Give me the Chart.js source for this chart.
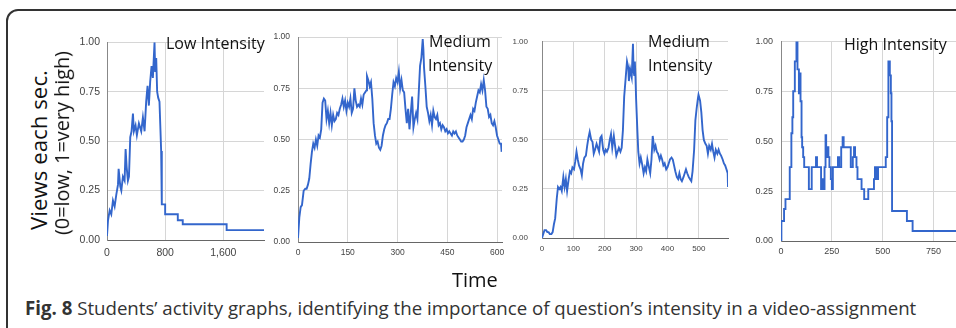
<!DOCTYPE html>
<html>
<head>
<meta charset="utf-8">
<script src="https://cdn.jsdelivr.net/npm/chart.js@4/dist/chart.umd.min.js"></script>
<style>
  html, body { margin: 0; padding: 0; background: #fff; }
  body { position: relative; width: 956px; height: 328px; overflow: hidden; }
  .frame { position: absolute; left: 6px; top: 9px; width: 1100px; height: 400px;
           border: 2px solid #333; border-radius: 12px; box-sizing: border-box; }
  canvas { position: absolute; }
  .txt { position: absolute; font-family: "Open Sans", sans-serif; color: #111;
         white-space: nowrap; line-height: 1; }
  .rot { transform: translate(-50%, -50%) rotate(-90deg); }
</style>
</head>
<body>
<div class="frame"></div>

<canvas id="p1"></canvas>
<canvas id="p2"></canvas>
<canvas id="p3"></canvas>
<canvas id="p4"></canvas>

<div class="txt rot" id="ylab1" style="left:39px; top:150px; font-size:21px;">Views each sec.</div>
<div class="txt rot" id="ylab2" style="left:62px; top:143px; font-size:20px;">(0=low, 1=very high)</div>

<div class="txt" style="left:166px; top:35px; font-size:16px;">Low Intensity</div>
<div class="txt" style="left:429px; top:33px; font-size:16px;">Medium</div>
<div class="txt" style="left:428px; top:57px; font-size:16px;">Intensity</div>
<div class="txt" style="left:648px; top:33px; font-size:16px;">Medium</div>
<div class="txt" style="left:648px; top:57px; font-size:16px;">Intensity</div>
<div class="txt" style="left:844px; top:36px; font-size:16px;">High Intensity</div>

<div class="txt" style="left:452px; top:270px; font-size:20px;">Time</div>

<div class="txt" id="caption" style="left:25px; top:299px; font-size:18.5px; color:#333;"><b>Fig. 8</b> Students’ activity graphs, identifying the importance of question’s intensity in a video-assignment</div>

<script>
// --- data (time in s, views normalised 0..1) ---
const lowTime = [0, 14, 37, 59, 82, 105, 128, 151, 160, 183, 197, 219, 242, 256, 270, 288, 302, 320, 338, 357,
  370, 393, 411, 439, 471, 494, 517, 539, 558, 576, 594, 613, 631, 645, 654, 663, 677, 690, 704, 722,
  736, 745, 754, 800, 800, 974, 974, 1042, 1042, 1646, 1646, 2160];
const lowViews = [0.02, 0.10, 0.15, 0.13, 0.20, 0.17, 0.23, 0.28, 0.36, 0.27, 0.25, 0.32, 0.30, 0.46, 0.37, 0.30, 0.32, 0.52, 0.55, 0.64,
  0.55, 0.58, 0.53, 0.59, 0.55, 0.62, 0.55, 0.70, 0.78, 0.68, 0.80, 0.88, 0.82, 0.93, 1.00, 0.85, 0.92, 0.75, 0.72, 0.70,
  0.55, 0.45, 0.18, 0.18, 0.13, 0.13, 0.10, 0.10, 0.08, 0.08, 0.05, 0.05];

const med1Time = [0, 4, 8, 12, 17, 22, 26, 30, 34, 38, 42, 46, 50, 54, 58, 62, 66, 70, 74, 78,
  82, 86, 90, 94, 98, 102, 106, 110, 114, 118, 122, 126, 130, 134, 138, 142, 146, 150, 154, 158,
  162, 166, 170, 174, 178, 182, 186, 190, 194, 198, 202, 206, 208, 212, 216, 220, 224, 228, 232, 236,
  240, 244, 248, 252, 256, 260, 264, 268, 272, 276, 280, 284, 288, 292, 296, 300, 304, 308, 312, 316,
  320, 324, 328, 332, 336, 340, 344, 348, 352, 356, 360, 364, 368, 372, 376, 378, 380, 384, 388, 392,
  396, 400, 404, 408, 412, 416, 420, 424, 428, 432, 436, 440, 444, 448, 452, 456, 460, 464, 468, 472,
  476, 480, 484, 488, 492, 496, 500, 504, 508, 512, 516, 520, 524, 528, 532, 536, 540, 544, 548, 552,
  556, 560, 564, 568, 572, 576, 580, 584, 588, 592, 596, 600, 604, 608, 612, 614];
const med1Views = [0.02, 0.12, 0.17, 0.18, 0.25, 0.26, 0.26, 0.28, 0.31, 0.38, 0.44, 0.48, 0.46, 0.50, 0.47, 0.52, 0.51, 0.55, 0.68, 0.70,
  0.69, 0.60, 0.64, 0.58, 0.63, 0.57, 0.62, 0.59, 0.60, 0.63, 0.62, 0.65, 0.67, 0.70, 0.66, 0.69, 0.64, 0.68, 0.66, 0.70,
  0.63, 0.65, 0.75, 0.69, 0.66, 0.67, 0.66, 0.70, 0.67, 0.72, 0.73, 0.74, 0.81, 0.79, 0.76, 0.78, 0.70, 0.58, 0.52, 0.48,
  0.49, 0.46, 0.45, 0.47, 0.52, 0.55, 0.57, 0.58, 0.60, 0.60, 0.65, 0.72, 0.78, 0.76, 0.80, 0.78, 0.83, 0.75, 0.79, 0.74,
  0.73, 0.65, 0.58, 0.65, 0.55, 0.63, 0.71, 0.56, 0.60, 0.63, 0.60, 0.73, 0.86, 0.90, 0.99, 0.94, 0.85, 0.76, 0.66, 0.63,
  0.59, 0.62, 0.57, 0.64, 0.61, 0.60, 0.62, 0.57, 0.58, 0.55, 0.57, 0.56, 0.54, 0.55, 0.53, 0.54, 0.53, 0.52, 0.54, 0.53,
  0.54, 0.52, 0.51, 0.50, 0.49, 0.49, 0.50, 0.52, 0.56, 0.58, 0.60, 0.62, 0.60, 0.65, 0.64, 0.68, 0.71, 0.74, 0.73, 0.77,
  0.74, 0.79, 0.74, 0.66, 0.65, 0.61, 0.62, 0.58, 0.57, 0.59, 0.56, 0.52, 0.50, 0.48, 0.48, 0.44];

const med2Time = [0, 4, 8, 13, 17, 21, 25, 30, 34, 38, 42, 47, 51, 55, 59, 63, 68, 72, 76, 80,
  85, 89, 93, 97, 102, 106, 110, 114, 118, 123, 127, 131, 135, 140, 144, 148, 152, 157, 161, 165,
  169, 174, 178, 182, 186, 190, 195, 199, 203, 207, 212, 216, 220, 224, 229, 233, 237, 241, 245, 250,
  254, 258, 262, 267, 271, 275, 277, 281, 286, 290, 292, 294, 296, 298, 300, 304, 307, 311, 315, 320,
  324, 328, 332, 336, 341, 345, 349, 353, 358, 362, 366, 370, 375, 379, 383, 387, 391, 396, 400, 404,
  408, 413, 417, 421, 425, 430, 434, 438, 442, 446, 451, 455, 459, 463, 468, 472, 476, 480, 485, 489,
  493, 497, 499, 504, 508, 512, 516, 521, 525, 529, 533, 538, 542, 546, 550, 554, 559, 563, 567, 571,
  576, 580, 584, 588, 592, 593];
const med2Views = [0.00, 0.02, 0.04, 0.04, 0.03, 0.03, 0.02, 0.02, 0.03, 0.07, 0.10, 0.20, 0.26, 0.25, 0.26, 0.24, 0.31, 0.26, 0.30, 0.24,
  0.30, 0.34, 0.33, 0.36, 0.35, 0.39, 0.44, 0.40, 0.37, 0.35, 0.32, 0.38, 0.41, 0.42, 0.47, 0.51, 0.54, 0.50, 0.49, 0.43,
  0.45, 0.48, 0.46, 0.44, 0.51, 0.52, 0.45, 0.43, 0.45, 0.44, 0.46, 0.50, 0.53, 0.46, 0.52, 0.47, 0.42, 0.44, 0.46, 0.44,
  0.46, 0.55, 0.72, 0.82, 0.90, 0.87, 0.80, 0.86, 0.82, 0.99, 0.85, 0.83, 0.90, 0.82, 0.71, 0.55, 0.44, 0.38, 0.41, 0.37,
  0.33, 0.36, 0.34, 0.40, 0.36, 0.33, 0.40, 0.52, 0.45, 0.47, 0.44, 0.43, 0.40, 0.42, 0.40, 0.37, 0.38, 0.35, 0.36, 0.38,
  0.40, 0.41, 0.40, 0.37, 0.34, 0.31, 0.30, 0.33, 0.30, 0.29, 0.31, 0.33, 0.35, 0.33, 0.31, 0.30, 0.29, 0.34, 0.45, 0.60,
  0.66, 0.71, 0.73, 0.70, 0.64, 0.55, 0.50, 0.48, 0.47, 0.43, 0.47, 0.45, 0.48, 0.44, 0.41, 0.45, 0.43, 0.45, 0.43, 0.42,
  0.40, 0.38, 0.37, 0.35, 0.33, 0.26];

// high intensity is a step series: each value starts at its time
const highTime = [0, 2, 15, 22, 43, 51, 56, 60, 68, 76, 81, 88, 93, 96, 101, 104, 109, 114, 137, 151,
  172, 177, 197, 202, 209, 214, 219, 222, 227, 233, 238, 245, 250, 255, 280, 286, 296, 303, 308, 343,
  353, 359, 364, 371, 376, 396, 409, 429, 457, 462, 470, 477, 515, 522, 528, 535, 540, 543, 546, 619,
  647, 880];
const highViews = [0.00, 0.10, 0.16, 0.21, 0.37, 0.54, 0.62, 0.75, 0.90, 1.00, 0.86, 0.74, 0.84, 0.70, 0.52, 0.47, 0.42, 0.37, 0.26, 0.37,
  0.42, 0.37, 0.26, 0.31, 0.26, 0.37, 0.53, 0.42, 0.47, 0.42, 0.37, 0.31, 0.26, 0.37, 0.42, 0.37, 0.47, 0.52, 0.47, 0.37,
  0.42, 0.47, 0.42, 0.37, 0.31, 0.26, 0.21, 0.26, 0.31, 0.37, 0.31, 0.37, 0.42, 0.62, 0.90, 0.83, 0.74, 0.60, 0.15, 0.10,
  0.05, 0.05];

// tick values
const yTicks = [0, 0.25, 0.5, 0.75, 1];
const lowTicks = [0, 800, 1600];
const med1Ticks = [0, 150, 300, 450, 600];
const med2Ticks = [0, 100, 200, 300, 400, 500];
const highTicks = [0, 250, 500, 750];

// panel placement on the page (plot area edges in px)
const panels = [
  { id: 'p1', t: lowTime,  v: lowViews,  ticks: lowTicks,  stepped: false, left: 107, right: 264, top: 36, bottom: 240, xMax: 2160, font: 10.5, yPad: 7,  xPad: 7 },
  { id: 'p2', t: med1Time, v: med1Views, ticks: med1Ticks, stepped: false, left: 298, right: 502, top: 31, bottom: 242, xMax: 615,  font: 8.5,  yPad: 8,  xPad: 6 },
  { id: 'p3', t: med2Time, v: med2Views, ticks: med2Ticks, stepped: false, left: 542, right: 728, top: 30, bottom: 238, xMax: 593,  font: 8,    yPad: 14, xPad: 6 },
  { id: 'p4', t: highTime, v: highViews, ticks: highTicks, stepped: true,  left: 781, right: 960, top: 35, bottom: 241, xMax: 880,  font: 9,    yPad: 8,  xPad: 5 }
];

const Y_W = 40, X_H = 24, PAD_T = 7, PAD_R = 22;

function makePanel(p) {
  const canvas = document.getElementById(p.id);
  const w = p.right - p.left + Y_W + PAD_R;
  const h = p.bottom - p.top + PAD_T + X_H;
  canvas.width = w;
  canvas.height = h;
  canvas.style.left = (p.left - Y_W) + 'px';
  canvas.style.top = (p.top - PAD_T) + 'px';
  canvas.style.width = w + 'px';
  canvas.style.height = h + 'px';

  const tickFont = { family: '"Liberation Sans", Arial, sans-serif', size: p.font };

  new Chart(canvas.getContext('2d'), {
    type: 'line',
    data: {
      datasets: [{
        data: p.t.map((x, i) => ({ x: x, y: p.v[i] })),
        borderColor: '#3366cc',
        borderWidth: 1.9,
        pointRadius: 0,
        tension: 0,
        stepped: p.stepped,
        fill: false
      }]
    },
    options: {
      responsive: false,
      animation: false,
      events: [],
      layout: { padding: { top: PAD_T, right: PAD_R, left: 0, bottom: 0 } },
      plugins: { legend: { display: false }, tooltip: { enabled: false } },
      scales: {
        x: {
          type: 'linear',
          min: 0,
          max: p.xMax,
          afterFit(s) { s.height = X_H; },
          afterBuildTicks(s) { s.ticks = p.ticks.map(v => ({ value: v })); },
          ticks: {
            autoSkip: false, maxRotation: 0,
            padding: p.xPad, color: '#444', font: tickFont,
            callback: v => v.toLocaleString('en-US')
          },
          grid: { color: '#d6d6d6', drawTicks: false },
          border: { color: '#666', width: 1 }
        },
        y: {
          min: 0,
          max: 1,
          afterFit(s) { s.width = Y_W; },
          afterBuildTicks(s) { s.ticks = yTicks.map(v => ({ value: v })); },
          ticks: {
            padding: p.yPad, color: '#444', font: tickFont,
            callback: v => v.toFixed(2)
          },
          grid: { color: '#d6d6d6', drawTicks: false },
          border: { color: '#888', width: 1 }
        }
      }
    }
  });
}

panels.forEach(makePanel);

// stretch a text line to the width it has in the figure
function fitText(id, target) {
  const el = document.getElementById(id);
  const fs = parseFloat(el.style.fontSize);
  const r = el.getBoundingClientRect();
  const len = el.classList.contains('rot') ? r.height : r.width;
  el.style.fontSize = (fs * target / len).toFixed(2) + 'px';
}
fitText('caption', 892);
fitText('ylab1', 160);
fitText('ylab2', 184);
</script>
</body>
</html>
